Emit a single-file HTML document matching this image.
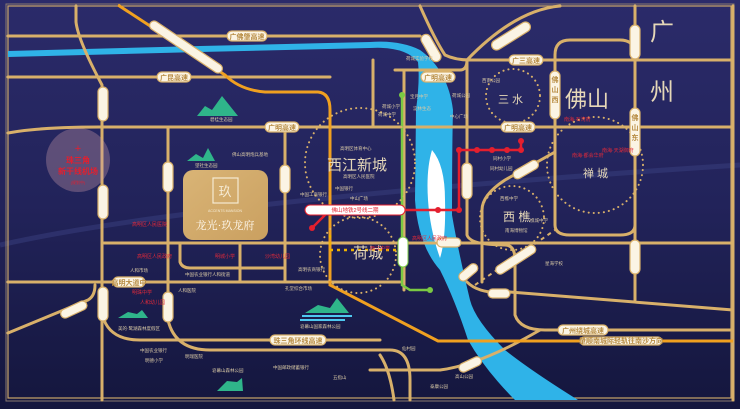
<!DOCTYPE html>
<html><head><meta charset="utf-8"><style>
html,body{margin:0;padding:0;background:#1c1d4e;}
svg{display:block;font-family:"Liberation Sans","Noto Sans CJK SC",sans-serif;}
.r{fill:none;stroke:#d8b06a;stroke-width:3;stroke-linecap:round;stroke-linejoin:round}
.p{fill:#fbf4e4;stroke:#d8b06a;stroke-width:1.2}
.pt{fill:#b88d45;font-size:7px;font-weight:bold}
.s{fill:#d9c9a6;font-size:4.5px}
.rd{fill:#e02a3a;font-size:5px}
.dot{fill:none;stroke:#d8b06a;stroke-width:2;stroke-dasharray:0.1 5;stroke-linecap:round}
</style></head><body>
<svg width="740" height="409" viewBox="0 0 740 409" xmlns="http://www.w3.org/2000/svg">
<defs>
<linearGradient id="bg" x1="0" y1="0" x2="0" y2="1">
<stop offset="0" stop-color="#2b2b6a"/><stop offset="0.5" stop-color="#22235a"/><stop offset="1" stop-color="#14163d"/>
</linearGradient>
<linearGradient id="gold" x1="0" y1="0" x2="1" y2="1">
<stop offset="0" stop-color="#d9b476"/><stop offset="1" stop-color="#caa060"/>
</linearGradient>
</defs>
<rect width="740" height="409" fill="url(#bg)"/>
<path d="M0 245 Q200 200 740 165" stroke="#3a3f80" stroke-width="5" fill="none" opacity="0.5"/>
<rect x="6" y="4" width="728" height="397" fill="none" stroke="#8a7a70" stroke-width="1"/>
<rect x="8" y="6" width="723" height="392" fill="none" stroke="#c9a56a" stroke-width="1.2"/>

<!-- river -->
<path d="M8 57 L200 52 L370 48 Q405 46 418 62 Q420 80 416 110 L415 200 Q418 245 440 270 Q455 300 468 340 Q485 370 515 400 L578 400 Q530 370 505 350 Q475 320 470 300 Q458 250 452 215 Q452 150 453 110 Q448 70 420 50 Q400 40 370 42 L200 46 L8 51 Z" fill="#2fb3e8"/>
<path d="M432 150 Q445 165 445 200 Q446 240 440 258 Q430 230 428 200 Q426 170 432 150Z" fill="#ffffff"/>

<!-- roads -->
<g class="r">
<path d="M8 36 H420"/>
<path d="M8 77 H330"/>
<path d="M76 6 V22 Q78 40 102 85 V400"/>
<path d="M8 133 Q40 127 100 127 H733"/>
<path d="M168 127 V282"/>
<path d="M285 127 V282"/>
<path d="M104 243 H733" />
<path d="M8 282 H400"/>
<path d="M8 333 L88 300 Q95 296 95 285"/>
<path d="M104 320 Q112 340 140 340 H380"/>
<path d="M168 282 V320 Q175 350 210 350 H390 Q410 350 410 380 V400"/>
<path d="M180 243 V262 Q182 268 190 268 H285"/>
<path d="M240 243 V282"/>
<path d="M404 70 V290"/>
<path d="M395 70 H460 Q467 70 467 60 H733"/>
<path d="M420 6 Q435 40 445 55 Q455 60 470 60"/>
<path d="M467 60 Q515 10 560 6"/>
<path d="M373 127 V60"/>
<path d="M467 60 V235 Q470 245 505 245 Q515 245 515 260 V315 Q520 330 545 330 H733"/>
<path d="M555 127 V55 Q555 40 570 40 H620 Q635 40 635 55"/>
<path d="M635 6 V300"/>
<path d="M555 127 V225 Q555 235 570 235 H620 Q635 235 635 225"/>
<path d="M555 152 L505 180 Q482 195 482 210 V282"/>
<path d="M467 282 Q480 295 510 292 L733 310"/>
<path d="M400 370 L440 370 Q480 365 540 330"/>
<path d="M370 370 H440"/>
<path d="M380 355 Q390 370 394 400"/>
<path d="M733 6 V400"/>
</g>
<line x1="475" y1="285" x2="555" y2="230" stroke="#d8b06a" stroke-width="2" stroke-dasharray="4 4"/>

<!-- orange rail -->
<path d="M118 5 L225 75 Q240 90 265 92 L318 92 Q330 93 330 110 V285 L438 341 H733" fill="none" stroke="#f0a020" stroke-width="3"/>

<!-- green line -->
<path d="M402 95 V285 L410 290 H430" fill="none" stroke="#7ac943" stroke-width="2.5"/>
<circle cx="402" cy="95" r="3" fill="#7ac943"/><circle cx="430" cy="290" r="3" fill="#7ac943"/>

<!-- red metro -->
<path d="M312 228 L330 210 H459 V150 H521 V141" fill="none" stroke="#e41f2e" stroke-width="2.5"/>
<g fill="#e41f2e"><circle cx="312" cy="228" r="3"/><circle cx="330" cy="210" r="3"/><circle cx="363" cy="210" r="3"/><circle cx="438" cy="210" r="3"/><circle cx="459" cy="210" r="3"/><circle cx="459" cy="150" r="3"/><circle cx="477" cy="150" r="3"/><circle cx="492" cy="150" r="3"/><circle cx="507" cy="150" r="3"/><circle cx="521" cy="150" r="3"/><circle cx="521" cy="141" r="3"/></g>

<!-- circles -->
<circle cx="78" cy="160" r="32" fill="#c89aa8" opacity="0.35"/>
<circle cx="360" cy="163" r="55" class="dot"/>
<circle cx="358" cy="255" r="38" class="dot"/>
<path d="M330 250 H400" stroke="#f0b400" stroke-width="2.5" stroke-dasharray="3 4"/>
<path d="M330 235 V250" stroke="#f0b400" stroke-width="2.5" stroke-dasharray="3 4"/>
<circle cx="513" cy="96" r="27" class="dot"/>
<circle cx="595" cy="165" r="48" class="dot"/>
<circle cx="512" cy="218" r="32" class="dot"/>

<!-- project box -->
<rect x="183" y="170" width="85" height="70" rx="10" fill="url(#gold)"/>
<rect x="213" y="178" width="25" height="25" fill="none" stroke="#f5ead2" stroke-width="1.2"/>
<text x="225" y="196" text-anchor="middle" fill="#f5ead2" font-size="13">玖</text>
<text x="225" y="212" text-anchor="middle" fill="#f5ead2" font-size="3.5">ACCENTS MANSION</text>
<text x="225" y="229" text-anchor="middle" fill="#fffaf0" font-size="11" font-family="Liberation Serif,'Noto Serif CJK SC',serif">龙光·玖龙府</text>

<!-- mountains -->
<g fill="#2fb58a"><path d="M197 116 L205 106 L212 110 L222 96 L238 116Z"/><path d="M187 161 L196 154 L203 158 L208 148 L215 161Z"/><path d="M305 313 L318 305 L330 308 L337 298 L349 313Z"/><path d="M118 318 L128 312 L137 314 L142 310 L148 318Z"/><path d="M217 391 L227 381 L237 382 L242 378 L243 391Z"/></g>
<path d="M302 316 H352 M300 320 H345" stroke="#4fc8f0" stroke-width="2"/>

<!-- big text -->
<g fill="#e6d8b8">
<text x="650" y="40" font-size="24">广</text>
<text x="650" y="100" font-size="24">州</text>
<text x="565" y="107" font-size="22">佛山</text>
<text x="327" y="170" font-size="15">西江新城</text>
<text x="353" y="258" font-size="15">荷城</text>
<text x="498" y="103" font-size="11">三 水</text>
<text x="583" y="177" font-size="11">禅 城</text>
<text x="503" y="221" font-size="12">西 樵</text>
</g>
<text x="78" y="152" text-anchor="middle" fill="#e41f2e" font-size="11">+</text>
<text x="78" y="163" text-anchor="middle" fill="#e41f2e" font-size="8" font-weight="bold">珠三角</text>
<text x="78" y="174" text-anchor="middle" fill="#e41f2e" font-size="8" font-weight="bold">新干线机场</text>
<text x="78" y="184" text-anchor="middle" fill="#e41f2e" font-size="4">(规划中)</text>

<!-- pills -->
<g>
<rect x="227" y="31" width="40" height="10" rx="5" class="p"/><text x="247" y="39" text-anchor="middle" class="pt">广佛肇高速</text>
<rect x="157" y="72" width="34" height="10" rx="5" class="p"/><text x="174" y="80" text-anchor="middle" class="pt">广昆高速</text>
<rect x="265" y="122" width="34" height="10" rx="5" class="p"/><text x="282" y="130" text-anchor="middle" class="pt">广明高速</text>
<rect x="421" y="72" width="34" height="10" rx="5" class="p"/><text x="438" y="80" text-anchor="middle" class="pt">广明高速</text>
<rect x="509" y="55" width="34" height="10" rx="5" class="p"/><text x="526" y="63" text-anchor="middle" class="pt">广三高速</text>
<rect x="501" y="122" width="34" height="10" rx="5" class="p"/><text x="518" y="130" text-anchor="middle" class="pt">广明高速</text>
<rect x="489" y="31" width="44" height="10" rx="5" class="p" transform="rotate(-32 511 36)"/>
<rect x="143" y="42.5" width="86" height="9" rx="4.5" class="p" transform="rotate(34 186 47)"/>
<rect x="98" y="87" width="10" height="34" rx="5" class="p"/>
<rect x="98" y="287" width="10" height="34" rx="5" class="p"/>
<rect x="98" y="185" width="10" height="34" rx="5" class="p"/>
<rect x="163" y="162" width="10" height="30" rx="5" class="p"/>
<rect x="280" y="165" width="10" height="28" rx="5" class="p"/>
<rect x="163" y="292" width="10" height="30" rx="5" class="p"/>
<rect x="550" y="71" width="10" height="48" rx="5" class="p"/><text x="555" y="82" text-anchor="middle" class="pt">佛</text><text x="555" y="92" text-anchor="middle" class="pt">山</text><text x="555" y="102" text-anchor="middle" class="pt">西</text>
<rect x="630" y="108" width="10" height="48" rx="5" class="p"/><text x="635" y="120" text-anchor="middle" class="pt">佛</text><text x="635" y="130" text-anchor="middle" class="pt">山</text><text x="635" y="140" text-anchor="middle" class="pt">东</text>
<rect x="630" y="25" width="10" height="34" rx="5" class="p"/>
<rect x="630" y="240" width="10" height="34" rx="5" class="p"/>
<rect x="462" y="163" width="10" height="36" rx="5" class="p"/>
<rect x="426" y="33" width="10" height="30" rx="5" class="p" transform="rotate(-30 431 48)"/>
<rect x="113" y="277" width="32" height="10" rx="5" class="p"/><text x="129" y="285" text-anchor="middle" class="pt" font-size="6">高明大道中</text>
<rect x="60" y="305" width="28" height="9" rx="4.5" class="p" transform="rotate(-25 74 310)"/>
<rect x="270" y="335" width="56" height="10" rx="5" class="p"/><text x="298" y="343" text-anchor="middle" class="pt">珠三角环线高速</text>
<rect x="558" y="325" width="50" height="10" rx="5" class="p"/><text x="583" y="333" text-anchor="middle" class="pt">广州绕城高速</text>
<rect x="580" y="337" width="82" height="8" rx="4" class="p"/><text x="621" y="343" text-anchor="middle" class="pt" font-size="5.5">肇顺南城际轻轨往南沙方向</text>
<rect x="305" y="205" width="100" height="10" rx="5" fill="#fff" stroke="#e41f2e"/><text x="355" y="212" text-anchor="middle" fill="#e41f2e" font-size="5.5">佛山地铁2号线二期</text>
<rect x="398" y="237" width="10" height="30" rx="5" fill="#fff" stroke="#7ac943"/>
<rect x="437" y="238" width="24" height="9" rx="4.5" class="p"/>
<rect x="488" y="289" width="22" height="9" rx="4.5" class="p"/>
<rect x="493" y="255" width="46" height="9" rx="4.5" class="p" transform="rotate(-33 516 260)"/>
<rect x="457" y="268" width="22" height="9" rx="4.5" class="p" transform="rotate(-40 468 272)"/>
<rect x="458" y="360" width="24" height="9" rx="4.5" class="p" transform="rotate(-25 470 364)"/>
<rect x="512" y="165" width="28" height="9" rx="4.5" class="p" transform="rotate(-30 526 170)"/>
</g>

<!-- small labels -->
<g class="s">
<text x="210" y="121">碧桂生态园</text><text x="232" y="156">佛山高明炮兵基地</text><text x="195" y="167">望社生态园</text>
<text x="340" y="150">高明区体育中心</text><text x="343" y="178">高明区人民医院</text><text x="300" y="196">中国工商银行</text><text x="335" y="190">中国银行</text><text x="350" y="200">中山广场</text>
<text x="132" y="226" class="rd">高明区人民医院</text><text x="137" y="258" class="rd">高明区人民政府</text><text x="215" y="258" class="rd">明城小学</text><text x="265" y="258" class="rd">沙湾幼儿园</text>
<text x="185" y="276">中国农业银行</text><text x="212" y="276">人和街道</text><text x="298" y="271">高明农商银行</text><text x="130" y="272">人和市场</text>
<text x="178" y="292">人和医院</text><text x="132" y="294" class="rd">明珠中学</text><text x="140" y="304" class="rd">人和幼儿园</text>
<text x="118" y="330">美的·鹭湖森林度假区</text><text x="300" y="328">皂幕山国家森林公园</text><text x="285" y="290">孔堂综合市场</text>
<text x="140" y="352">中国农业银行</text><text x="145" y="362">明德小学</text><text x="185" y="358">明瑞医院</text><text x="212" y="372">皂幕山森林公园</text><text x="273" y="369">中国邮政储蓄银行</text><text x="333" y="379">五指山</text>
<text x="402" y="350">仙村园</text><text x="455" y="378">高山公园</text><text x="430" y="388">泰康公园</text><text x="545" y="265">星海学校</text>
<text x="406" y="60">荷城实验学校</text><text x="410" y="98">宝月中学</text><text x="413" y="110">淀林生态</text><text x="452" y="97">荷城公园</text><text x="450" y="118">中心广场</text>
<text x="382" y="108">荷城小学</text><text x="378" y="116">荷城中学</text><text x="482" y="82">西南公园</text><text x="493" y="160">同村小学</text><text x="490" y="170">同村幼儿园</text>
<text x="500" y="200">西樵中学</text><text x="530" y="222">樵城中学</text><text x="505" y="232">南海博物馆</text>
<text x="572" y="157" class="rd">南海·都会华府</text><text x="602" y="152" class="rd">南海·天湖御府</text><text x="564" y="121" class="rd">南海·石湾府</text>
<text x="370" y="250" class="rd">西江中学</text><text x="412" y="240" class="rd">高明区人民政府</text>
</g>
</svg>
</body></html>
